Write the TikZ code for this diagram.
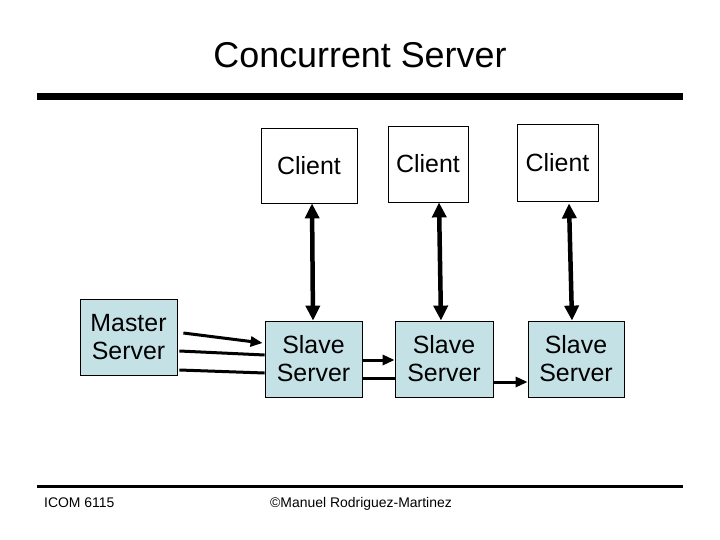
\documentclass[tikz,border=0pt]{standalone}
\usepackage{fontspec}
\setmainfont{Liberation Sans}
\usepackage{tikz}
\usetikzlibrary{arrows.meta, positioning, calc}
\definecolor{slaveblue}{HTML}{C4E1E6}

\begin{document}
\begin{tikzpicture}[x=1bp, y=-1bp,
  box/.style={draw=black, line width=0.8bp, inner sep=0pt, align=center,
    font=\fontsize{25}{28}\selectfont},
  srv/.style={box, fill=slaveblue, minimum width=97bp, minimum height=76bp},
  cli/.style={box, fill=white},
  dbl/.style={line width=4.5bp,
    {Triangle[length=15bp,width=14bp]}-{Triangle[length=15bp,width=14bp]}},
  fwd/.style={line width=3bp, -{Triangle[length=12bp,width=10bp]}},
  bare/.style={line width=3bp},
  foot/.style={font=\fontsize{14}{16}\selectfont, inner sep=0pt}]
  \useasboundingbox (0,0) rectangle (720,540);

  % Title and rules
  \node[font=\fontsize{36}{40}\selectfont] (title) at (360,55) {Concurrent Server};
  \fill (37,93) rectangle (683,100);
  \fill (37,485) rectangle (683,488);

  % Servers
  \node[srv] (master) at (128.5,337) {Master\\Server};
  \node[srv] (slave1) at (313.5,359) {Slave\\Server};
  \node[srv, minimum width=98bp] (slave2) at (444,359) {Slave\\Server};
  \node[srv, minimum width=96bp] (slave3) at (576,359) {Slave\\Server};

  % Clients
  \node[cli, minimum width=96bp, minimum height=75bp] (client1) at (309,165.5) {Client};
  \node[cli, minimum width=80bp, minimum height=76bp] (client2) at (428,164) {Client};
  \node[cli, minimum width=81bp, minimum height=77bp] (client3) at (557.5,162.5) {Client};

  % Client <-> slave
  \draw[dbl] ([shift={(3,0)}]client1.south) -- ([shift={(-0.5,0)}]slave1.north);
  \draw[dbl] ([shift={(11,0)}]client2.south) -- ([shift={(-3,0)}]slave2.north);
  \draw[dbl] ([shift={(11.5,2)}]client3.south) -- ([shift={(-4,0)}]slave3.north);

  % Master -> slave
  \draw[fwd] ([shift={(6,-4)}]master.east) -- ([shift={(-2,-16)}]slave1.west);
  \draw[bare] ([shift={(2,14)}]master.east) -- ([shift={(0,-4)}]slave1.west);
  \draw[bare] ([shift={(2,33)}]master.east) -- ([shift={(0,14)}]slave1.west);

  % Slave -> slave
  \draw[fwd] ([shift={(0,1)}]slave1.east) -- ([shift={(0,1)}]slave2.west);
  \draw[bare] ([shift={(0,19)}]slave1.east) -- ([shift={(0,19)}]slave2.west);
  \draw[fwd] ([shift={(0,23)}]slave2.east) -- ([shift={(0,23)}]slave3.west);

  % Footer
  \node[foot, anchor=base west] (course) at (44,507) {ICOM 6115};
  \node[foot, anchor=base] (author) at (361,507) {©Manuel Rodriguez-Martinez};
\end{tikzpicture}
\end{document}
